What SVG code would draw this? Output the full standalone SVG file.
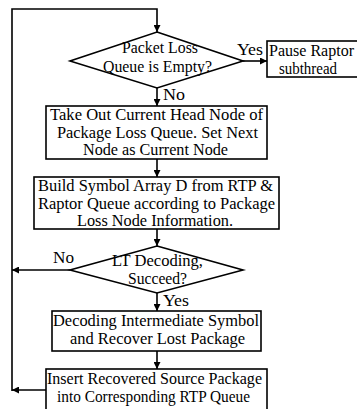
<svg xmlns="http://www.w3.org/2000/svg" width="357" height="409" viewBox="0 0 357 409">
  <style>
    .shape { fill: #ffffff; stroke: #000000; stroke-width: 1.6; }
    .edge { fill: none; stroke: #000000; stroke-width: 1.6; }
    text { font-family: "Liberation Serif", "Times New Roman", serif; font-size: 16px; fill: #000000; }
    .c { text-anchor: middle; }
  </style>
  <defs>
    <marker id="arrow" viewBox="0 0 10 10" refX="10" refY="5" markerWidth="7" markerHeight="7" markerUnits="userSpaceOnUse" orient="auto">
      <path d="M0,0 L10,5 L0,10 z" fill="#000000"/>
    </marker>
  </defs>
  <rect width="357" height="409" fill="#ffffff"/>

  <g id="connectors">
    <!-- loop back to the first decision -->
    <path class="edge" d="M12,391 L12,9 L157,9 L157,32" marker-end="url(#arrow)"/>
    <!-- decision 1: yes -> pause -->
    <path class="edge" d="M243,61 L267,61" marker-end="url(#arrow)"/>
    <!-- decision 1: no -> take out head node -->
    <path class="edge" d="M157,88 L157,106" marker-end="url(#arrow)"/>
    <path class="edge" d="M157,159 L157,177" marker-end="url(#arrow)"/>
    <path class="edge" d="M157,229 L157,246" marker-end="url(#arrow)"/>
    <!-- decision 2: no -> back to loop -->
    <path class="edge" d="M70,270 L12,270" marker-end="url(#arrow)"/>
    <!-- decision 2: yes -> decode -->
    <path class="edge" d="M157,293 L157,311" marker-end="url(#arrow)"/>
    <path class="edge" d="M157,351 L157,369" marker-end="url(#arrow)"/>
    <path class="edge" d="M46,390 L12,390" marker-end="url(#arrow)"/>
    <text x="237" y="55" textLength="26" lengthAdjust="spacingAndGlyphs">Yes</text>
    <text x="163" y="100" textLength="22" lengthAdjust="spacingAndGlyphs">No</text>
    <text x="53" y="263" textLength="21" lengthAdjust="spacingAndGlyphs">No</text>
    <text x="163" y="306" textLength="26" lengthAdjust="spacingAndGlyphs">Yes</text>
  </g>

  <g id="queue-empty">
    <polygon class="shape" points="157,32 243,61 157,88 70,61"/>
    <text class="c" x="160" y="53" textLength="76" lengthAdjust="spacingAndGlyphs">Packet Loss</text>
    <text class="c" x="157.5" y="72" textLength="109" lengthAdjust="spacingAndGlyphs">Queue is Empty?</text>
  </g>

  <g id="pause-raptor">
    <rect class="shape" x="267" y="41" width="94" height="36"/>
    <text x="269" y="56" textLength="85" lengthAdjust="spacingAndGlyphs">Pause Raptor</text>
    <text x="279" y="74" textLength="58" lengthAdjust="spacingAndGlyphs">subthread</text>
  </g>

  <g id="take-head-node">
    <rect class="shape" x="46" y="106" width="221" height="53"/>
    <text class="c" x="156.5" y="120" textLength="213" lengthAdjust="spacingAndGlyphs">Take Out Current Head Node of</text>
    <text class="c" x="157.5" y="137.5" textLength="201" lengthAdjust="spacingAndGlyphs">Package Loss Queue. Set Next</text>
    <text class="c" x="155.5" y="155" textLength="145" lengthAdjust="spacingAndGlyphs">Node as Current Node</text>
  </g>

  <g id="build-symbol-array">
    <rect class="shape" x="34" y="177" width="245" height="52"/>
    <text class="c" x="155.5" y="191" textLength="235" lengthAdjust="spacingAndGlyphs">Build Symbol Array D from RTP &amp;</text>
    <text class="c" x="156.5" y="208.5" textLength="237" lengthAdjust="spacingAndGlyphs">Raptor Queue according to Package</text>
    <text class="c" x="155" y="225.5" textLength="156" lengthAdjust="spacingAndGlyphs">Loss Node Information.</text>
  </g>

  <g id="lt-decoding">
    <polygon class="shape" points="157,246 243,270 157,293 70,270"/>
    <text class="c" x="157.5" y="266" textLength="91" lengthAdjust="spacingAndGlyphs">LT Decoding,</text>
    <text class="c" x="157.5" y="284" textLength="59" lengthAdjust="spacingAndGlyphs">Succeed?</text>
  </g>

  <g id="decode-intermediate">
    <rect class="shape" x="52" y="311" width="209" height="40"/>
    <text class="c" x="156" y="326" textLength="206" lengthAdjust="spacingAndGlyphs">Decoding Intermediate Symbol</text>
    <text class="c" x="157.5" y="344" textLength="175" lengthAdjust="spacingAndGlyphs">and Recover Lost Package</text>
  </g>

  <g id="insert-recovered">
    <rect class="shape" x="46" y="369" width="221" height="45"/>
    <text class="c" x="154.5" y="384" textLength="215" lengthAdjust="spacingAndGlyphs">Insert Recovered Source Package</text>
    <text class="c" x="153.5" y="402" textLength="193" lengthAdjust="spacingAndGlyphs">into Corresponding RTP Queue</text>
  </g>
</svg>
